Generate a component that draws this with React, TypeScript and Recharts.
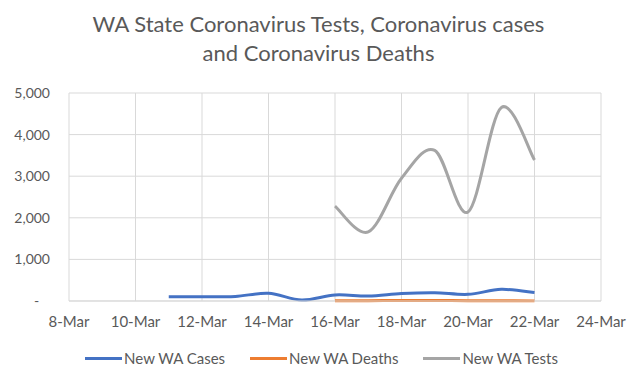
import { LineChart, Line, XAxis, YAxis, CartesianGrid, Legend } from 'recharts';

const days = [11, 12, 13, 14, 15, 16, 17, 18, 19, 20, 21, 22];
const newCases = [100, 100, 110, 185, 25, 145, 120, 180, 200, 160, 280, 205];
const newDeaths = [null, null, null, null, null, 4, 8, 12, 10, 9, 8, 3];
const newTests = [null, null, null, null, null, 2280, 1660, 2950, 3620, 2140, 4650, 3390];

const xTicks = [8, 10, 12, 14, 16, 18, 20, 22, 24];
const yTicks = [0, 1000, 2000, 3000, 4000, 5000];

const seriesInfo = [
  { key: 'cases', name: 'New WA Cases', color: '#4472C4' },
  { key: 'deaths', name: 'New WA Deaths', color: '#ED7D31' },
  { key: 'tests', name: 'New WA Tests', color: '#A5A5A5' },
];

const chartData = days.map((d, i) => ({
  day: d,
  cases: newCases[i],
  deaths: newDeaths[i],
  tests: newTests[i],
}));

const FONT = 'Lato, "Noto Sans", sans-serif';
const TEXT = '#595959';

// Excel-like smoothing (Catmull-Rom style bezier through each point)
function smoothCurve(context: any) {
  let pts: number[][] = [];
  return {
    areaStart() {},
    areaEnd() {},
    lineStart() {
      pts = [];
    },
    point(x: number, y: number) {
      pts.push([+x, +y]);
    },
    lineEnd() {
      if (!pts.length) return;
      context.moveTo(pts[0][0], pts[0][1]);
      for (let i = 0; i < pts.length - 1; i++) {
        const p0 = pts[i - 1] || pts[i];
        const p1 = pts[i];
        const p2 = pts[i + 1];
        const p3 = pts[i + 2] || p2;
        context.bezierCurveTo(
          p1[0] + (p2[0] - p0[0]) / 6,
          p1[1] + (p2[1] - p0[1]) / 6,
          p2[0] - (p3[0] - p1[0]) / 6,
          p2[1] - (p3[1] - p1[1]) / 6,
          p2[0],
          p2[1]
        );
      }
    },
  };
}

const fmtY = (v: number) => (v === 0 ? '-\u00a0\u00a0\u00a0' : v.toLocaleString('en-US'));

function LegendRow() {
  return (
    <div style={{ display: 'flex', justifyContent: 'center', alignItems: 'center', height: 20, fontFamily: FONT, fontSize: 15, color: TEXT, paddingLeft: 6 }}>
      {seriesInfo.map((s, i) => (
        <div key={s.key} style={{ display: 'flex', alignItems: 'center', marginLeft: i ? 25 : 0 }}>
          <div style={{ width: 37, height: 3, background: s.color, marginRight: 2 }} />
          <span>{s.name}</span>
        </div>
      ))}
    </div>
  );
}

export default function App() {
  return (
    <div style={{ position: 'absolute', left: 0, top: 0, width: 637, height: 384, background: '#fff' }}>
      <div
        style={{
          position: 'absolute',
          top: 9,
          left: 0,
          width: 637,
          textAlign: 'center',
          fontFamily: FONT,
          fontSize: 22,
          lineHeight: '29px',
          color: TEXT,
        }}
      >
        WA State Coronavirus Tests, Coronavirus cases
        <br />
        and Coronavirus Deaths
      </div>
      <LineChart width={637} height={384} data={chartData} margin={{ top: 93, right: 36, bottom: 33, left: 9 }}>
        <CartesianGrid stroke="#d9d9d9" vertical horizontal />
        <XAxis
          dataKey="day"
          type="number"
          domain={[8, 24]}
          ticks={xTicks}
          tickFormatter={(d: number) => `${d}-Mar`}
          tickLine={false}
          tickSize={0}
          tickMargin={15}
          height={30}
          stroke="#d9d9d9"
          tick={{ fill: TEXT, fontSize: 15, fontFamily: FONT }}
          interval={0}
        />
        <YAxis
          domain={[0, 5000]}
          ticks={yTicks}
          tickFormatter={fmtY}
          axisLine={false}
          tickLine={false}
          tickSize={0}
          tickMargin={19}
          width={60}
          tick={{ fill: TEXT, fontSize: 14, fontFamily: FONT }}
        />
        {seriesInfo.map((s) => (
          <Line
            key={s.key}
            dataKey={s.key}
            name={s.name}
            type={smoothCurve as any}
            stroke={s.color}
            strokeWidth={3}
            dot={false}
            activeDot={false}
            isAnimationActive={false}
          />
        ))}
        <Legend verticalAlign="bottom" content={() => <LegendRow />} wrapperStyle={{ bottom: undefined, top: 348, left: 0, width: 637 }} />
      </LineChart>
    </div>
  );
}
